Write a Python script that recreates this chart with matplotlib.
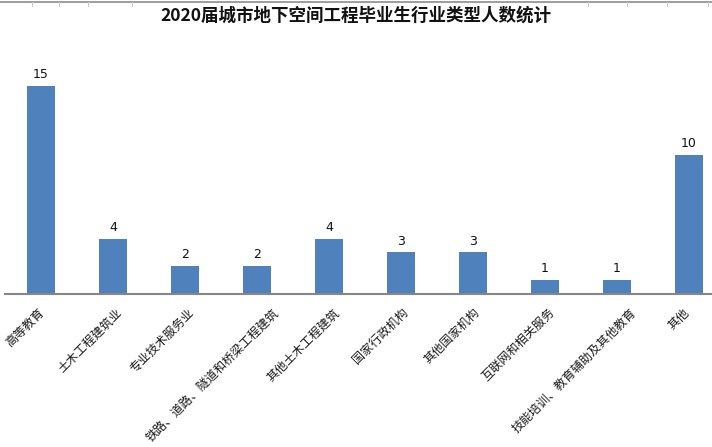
import numpy as np
import matplotlib
matplotlib.use('Agg')
import matplotlib.pyplot as plt
import matplotlib.transforms as mtransforms
from matplotlib.lines import Line2D

plt.rcParams['font.family'] = ['Noto Sans CJK SC', 'DejaVu Sans']

title = '2020届城市地下空间工程毕业生行业类型人数统计'
industries = ['高等教育', '土木工程建筑业', '专业技术服务业',
              '铁路、道路、隧道和桥梁工程建筑', '其他土木工程建筑',
              '国家行政机构', '其他国家机构', '互联网和相关服务',
              '技能培训、教育辅助及其他教育', '其他']
counts = [15, 4, 2, 2, 4, 3, 3, 1, 1, 10]

W, H = 712, 447
fig = plt.figure(figsize=(W / 100, H / 100), dpi=100)

# sheet border and grid stubs along the top edge
fig.add_artist(Line2D([0, 1], [1 - 2 / H, 1 - 2 / H], color='#8c8c8c', lw=1.2))
for gx in [32, 59, 88, 132, 588, 627, 667, 708]:
    fig.add_artist(Line2D([gx / W, gx / W], [1 - 2 / H, 1 - 6 / H],
                          color='#c8c8d8', lw=0.8))

base_y = 294
unit = 13.87
ymax = 16
ax = fig.add_axes([5 / W, 1 - base_y / H, 707 / W, ymax * unit / H])

x = np.arange(len(industries))
ax.bar(x, counts, width=0.4, color='#4F81BD', zorder=2)
for xi, c in zip(x, counts):
    ax.text(xi, c + 0.35, str(c), ha='center', va='bottom', fontsize=9,
            color='#111111', family=['DejaVu Sans'])

ax.set_xlim(-0.5, 9.32)
ax.set_ylim(0, ymax)
for side in ['top', 'right', 'left']:
    ax.spines[side].set_visible(False)
ax.spines['bottom'].set_color('#868686')
ax.spines['bottom'].set_linewidth(1.5)
ax.set_yticks([])
ax.set_xticks([])

# slanted category names; longer names sit further right of their bar
base = ax.get_xaxis_transform()
for xi, name in zip(x, industries):
    tr = mtransforms.offset_copy(base, fig=fig, x=1.6 * len(name) * 0.72,
                                 y=-12 * 0.72, units='points')
    ax.text(xi, 0, name, transform=tr, rotation=45, ha='right', va='top',
            fontsize=8.7, color='#1a1a1a', clip_on=False)

fig.text(356 / W, 1 - 16 / H, title, ha='center', va='center',
         fontsize=12.6, fontweight='bold', color='#111111')

fig.savefig('out.png', dpi=100, facecolor='white')
